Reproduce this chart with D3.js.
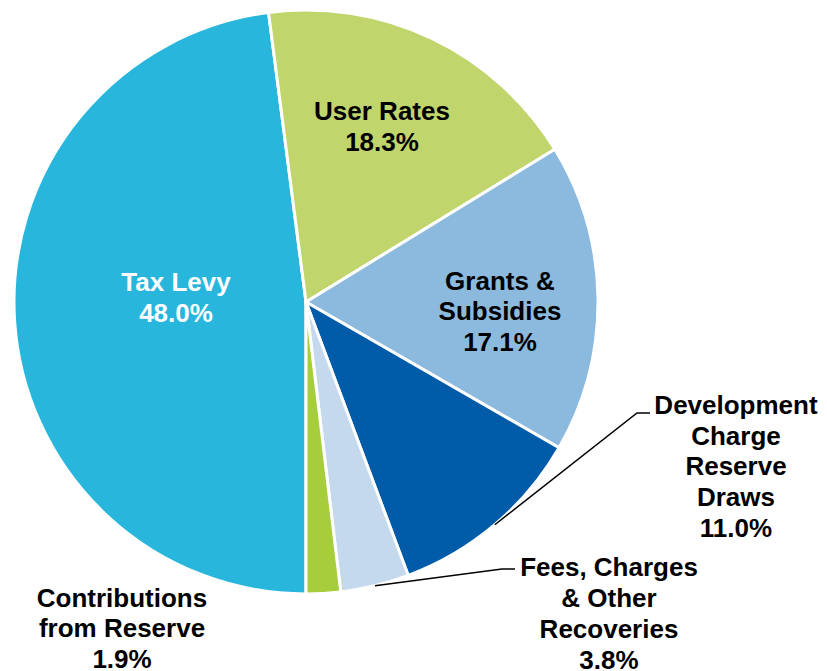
<!DOCTYPE html>
<html>
<head>
<meta charset="utf-8">
<script src="https://cdn.jsdelivr.net/npm/d3@7"></script>
<style>
    html, body { margin: 0; padding: 0; background: #fff; }
    svg text { font-family: "Liberation Sans", Arial, sans-serif; font-weight: bold; }
</style>
</head>
<body>
<svg id="chart" width="827" height="671"></svg>
<script>
// Budget sources, clockwise from 6 o'clock
const categories = ['Tax Levy', 'User Rates', 'Grants & Subsidies', 'Development Charge Reserve Draws', 'Fees, Charges & Other Recoveries', 'Contributions from Reserve'];
const values = [48.0, 18.3, 17.1, 11.0, 3.8, 1.9];
const labelLines = [
    ['Tax Levy'],
    ['User Rates'],
    ['Grants &', 'Subsidies'],
    ['Development', 'Charge', 'Reserve', 'Draws'],
    ['Fees, Charges', '& Other', 'Recoveries'],
    ['Contributions', 'from Reserve'],
];
const colors = ['#28b6dc', '#c0d56c', '#8cbade', '#005ba9', '#c4d9ee', '#a5cd3c'];

// label placement, relative to the pie centre
const labelLayout = [
    { x: -130, y: -5, fill: '#fff' },
    { x: 76, y: -176, fill: '#000' },
    { x: 194, y: 9, fill: '#000' },
    { x: 430, y: 164, fill: '#000', elbow: [331, 111], end: [344, 111] },
    { x: 303, y: 311, fill: '#000', elbow: [196, 267], end: [209, 267] },
    { x: -184, y: 326, fill: '#000' },
];

const cx = 306, cy = 302, radius = 292;
const fontSize = 26, lineH = 30.8;

const svg = d3.select('#chart');
const g = svg.append('g').attr('transform', `translate(${cx},${cy})`);

const data = categories.map((c, i) => ({ name: c, value: values[i], idx: i }));

const pie = d3.pie()
    .sort(null)
    .value((d) => d.value)
    .startAngle(Math.PI)
    .endAngle(3 * Math.PI);

const arc = d3.arc().innerRadius(0).outerRadius(radius);
const rim = d3.arc().innerRadius(radius).outerRadius(radius);

const arcs = pie(data);

g.selectAll('.slice')
    .data(arcs)
    .join('path')
    .attr('class', 'slice')
    .attr('d', arc)
    .attr('fill', (d) => colors[d.data.idx])
    .attr('stroke', '#fff')
    .attr('stroke-width', 3)
    .attr('stroke-linejoin', 'round');

// leader lines for the small outside labels
arcs.forEach((d) => {
    const lay = labelLayout[d.data.idx];
    if (!lay.elbow) return;
    const start = rim.centroid(d);
    g.append('polyline')
        .attr('points', [start, lay.elbow, lay.end].map((p) => p.join(',')).join(' '))
        .attr('fill', 'none')
        .attr('stroke', '#000')
        .attr('stroke-width', 1.5);
});

// labels: name lines + percentage
arcs.forEach((d) => {
    const i = d.data.idx;
    const lay = labelLayout[i];
    const lines = labelLines[i].concat([d3.format('.1f')(values[i]) + '%']);
    const top = lay.y - ((lines.length - 1) * lineH) / 2;
    const t = g.append('text')
        .attr('text-anchor', 'middle')
        .attr('font-size', fontSize)
        .attr('fill', lay.fill);
    lines.forEach((ln, k) => {
        t.append('tspan')
            .attr('x', lay.x)
            .attr('y', top + k * lineH + fontSize * 0.36)
            .text(ln);
    });
});
</script>
</body>
</html>
